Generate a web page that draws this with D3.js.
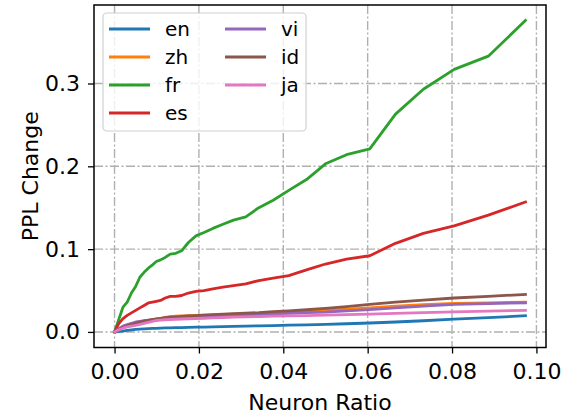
<!DOCTYPE html>
<html>
<head>
<meta charset="utf-8">
<script src="https://cdn.jsdelivr.net/npm/d3@7"></script>
<style>
  body { margin: 0; background: #fff; }
  svg { display: block; font-family: "DejaVu Sans", sans-serif; }
</style>
</head>
<body>
<div id="container"></div>
<script>
// neuron ratios (x)
const ratios = [0, 0.001, 0.002, 0.003, 0.004, 0.005, 0.006, 0.007, 0.008, 0.009,
  0.0099, 0.0109, 0.012, 0.0132, 0.0145, 0.0159, 0.0175, 0.0193, 0.0212, 0.0233,
  0.0257, 0.0282, 0.0311, 0.0342, 0.0376, 0.0413, 0.0455, 0.05, 0.055, 0.0605,
  0.0666, 0.0732, 0.0805, 0.0886, 0.0974];

const languages = ["en", "zh", "fr", "es", "vi", "id", "ja"];
const colors = ["#1f77b4", "#ff7f0e", "#2ca02c", "#d62728", "#9467bd", "#8c564b", "#e377c2"];

const en = [0, 0.0005, 0.001, 0.0018, 0.0024, 0.003, 0.0034, 0.0037, 0.004, 0.0042,
  0.0044, 0.0046, 0.0048, 0.005, 0.0051, 0.0053, 0.0055, 0.0057, 0.0059, 0.0062,
  0.0065, 0.0068, 0.0071, 0.0074, 0.0077, 0.0081, 0.0086, 0.0092, 0.0099, 0.0108,
  0.012, 0.0135, 0.0155, 0.0173, 0.0195];
const zh = [0, 0.003, 0.006, 0.008, 0.0095, 0.011, 0.012, 0.013, 0.014, 0.0148,
  0.0155, 0.016, 0.0175, 0.0185, 0.019, 0.0193, 0.0196, 0.0199, 0.0202, 0.0206,
  0.021, 0.0214, 0.0218, 0.0222, 0.0226, 0.0232, 0.0245, 0.026, 0.0275, 0.029,
  0.031, 0.033, 0.0345, 0.0352, 0.036];
const fr = [0, 0.015, 0.03, 0.036, 0.047, 0.055, 0.066, 0.072, 0.077, 0.081,
  0.085, 0.087, 0.09, 0.094, 0.095, 0.098, 0.108, 0.116, 0.12, 0.125,
  0.13, 0.135, 0.139, 0.15, 0.159, 0.171, 0.184, 0.203, 0.214, 0.221,
  0.263, 0.293, 0.317, 0.333, 0.376];
const es = [0, 0.01, 0.016, 0.02, 0.023, 0.026, 0.029, 0.032, 0.035, 0.036,
  0.037, 0.038, 0.041, 0.043, 0.043, 0.044, 0.047, 0.049, 0.05, 0.052,
  0.054, 0.056, 0.058, 0.062, 0.065, 0.068, 0.075, 0.082, 0.088, 0.092,
  0.107, 0.119, 0.128, 0.141, 0.157];
const vi = [0, 0.004, 0.007, 0.009, 0.0105, 0.012, 0.0128, 0.0135, 0.0142, 0.0148,
  0.0153, 0.0157, 0.0163, 0.0168, 0.0172, 0.0176, 0.018, 0.0184, 0.0188, 0.0192,
  0.0196, 0.02, 0.0205, 0.021, 0.0217, 0.0224, 0.0232, 0.024, 0.0255, 0.027,
  0.029, 0.0312, 0.0333, 0.0343, 0.0352];
const id = [0, 0.003, 0.0055, 0.0075, 0.009, 0.0105, 0.0118, 0.013, 0.014, 0.015,
  0.0158, 0.0165, 0.0172, 0.0178, 0.0183, 0.0188, 0.0193, 0.0198, 0.0203, 0.0208,
  0.0214, 0.022, 0.0226, 0.0233, 0.0245, 0.0255, 0.0268, 0.0285, 0.0305, 0.0332,
  0.036, 0.0385, 0.041, 0.043, 0.0453];
const ja = [0, 0.0025, 0.0045, 0.006, 0.007, 0.008, 0.009, 0.0102, 0.0115, 0.0128,
  0.0138, 0.0143, 0.0147, 0.015, 0.0153, 0.0156, 0.0159, 0.0162, 0.0165, 0.017,
  0.0174, 0.0178, 0.0182, 0.0186, 0.019, 0.0194, 0.0198, 0.0202, 0.0208, 0.0216,
  0.0225, 0.0233, 0.0243, 0.0252, 0.026];

const xTicks = [0, 0.02, 0.04, 0.06, 0.08, 0.10];
const yTicks = [0, 0.1, 0.2, 0.3];

const series = [en, zh, fr, es, vi, id, ja];

const width = 571, height = 415;
const margin = { left: 94, right: 25, top: 5, bottom: 67.5 };
const fontSize = "22px";

const svg = d3.select("#container").append("svg")
  .attr("width", width).attr("height", height);

const x = d3.scaleLinear()
  .domain([-0.00487, 0.10227])
  .range([margin.left, width - margin.right]);
const y = d3.scaleLinear()
  .domain([-0.0188, 0.3948])
  .range([height - margin.bottom, margin.top]);

// grid
const grid = svg.append("g")
  .attr("stroke", "#b0b0b0")
  .attr("stroke-width", 1.4)
  .attr("stroke-dasharray", "9,2.5,2,2.5");
grid.selectAll("line.vx").data(xTicks).join("line")
  .attr("x1", d => x(d)).attr("x2", d => x(d))
  .attr("y1", margin.top).attr("y2", height - margin.bottom);
grid.selectAll("line.hy").data(yTicks).join("line")
  .attr("y1", d => y(d)).attr("y2", d => y(d))
  .attr("x1", margin.left).attr("x2", width - margin.right);

// lines
const line = d3.line()
  .x((d, i) => x(ratios[i]))
  .y(d => y(d));

svg.append("g").selectAll("path").data(series).join("path")
  .attr("d", line)
  .attr("fill", "none")
  .attr("stroke", (d, i) => colors[i])
  .attr("stroke-width", 2.8)
  .attr("stroke-linejoin", "round")
  .attr("stroke-linecap", "square");

// axes
const xAxis = svg.append("g")
  .attr("transform", `translate(0,${height - margin.bottom})`)
  .call(d3.axisBottom(x).tickValues(xTicks).tickFormat(d3.format(".2f")).tickSize(6).tickPadding(10));
const yAxis = svg.append("g")
  .attr("transform", `translate(${margin.left},0)`)
  .call(d3.axisLeft(y).tickValues(yTicks).tickFormat(d3.format(".1f")).tickSize(6).tickPadding(8));

[xAxis, yAxis].forEach(a => {
  a.select(".domain").remove();
  a.selectAll(".tick line").attr("stroke", "#000").attr("stroke-width", 1.3);
  a.selectAll(".tick text").attr("fill", "#000")
    .style("font-size", fontSize).style("font-family", "DejaVu Sans");
});

// frame
svg.append("rect")
  .attr("x", margin.left).attr("y", margin.top)
  .attr("width", width - margin.left - margin.right)
  .attr("height", height - margin.top - margin.bottom)
  .attr("fill", "none").attr("stroke", "#000").attr("stroke-width", 1.5);

// axis titles
svg.append("text")
  .attr("x", (margin.left + width - margin.right) / 2)
  .attr("y", 410)
  .attr("text-anchor", "middle")
  .style("font-size", fontSize)
  .text("Neuron Ratio");
svg.append("text")
  .attr("transform", `translate(38,${(margin.top + height - margin.bottom) / 2}) rotate(-90)`)
  .attr("text-anchor", "middle")
  .style("font-size", fontSize)
  .text("PPL Change");

// legend
const legend = svg.append("g");
legend.append("rect")
  .attr("x", 103).attr("y", 13).attr("width", 203).attr("height", 118)
  .attr("rx", 4)
  .attr("fill", "#fff").attr("fill-opacity", 0.8)
  .attr("stroke", "#d0d0d0").attr("stroke-width", 1.2);

const items = legend.selectAll("g.item").data(languages).join("g")
  .attr("transform", (d, i) => `translate(${i < 4 ? 109 : 225},${29 + (i % 4) * 28})`);
items.append("line")
  .attr("x1", 0).attr("x2", 41)
  .attr("stroke", (d, i) => colors[i])
  .attr("stroke-width", 2.8);
items.append("text")
  .attr("x", 56).attr("y", 0).attr("dy", "0.35em")
  .style("font-size", "20px")
  .text(d => d);
</script>
</body>
</html>
